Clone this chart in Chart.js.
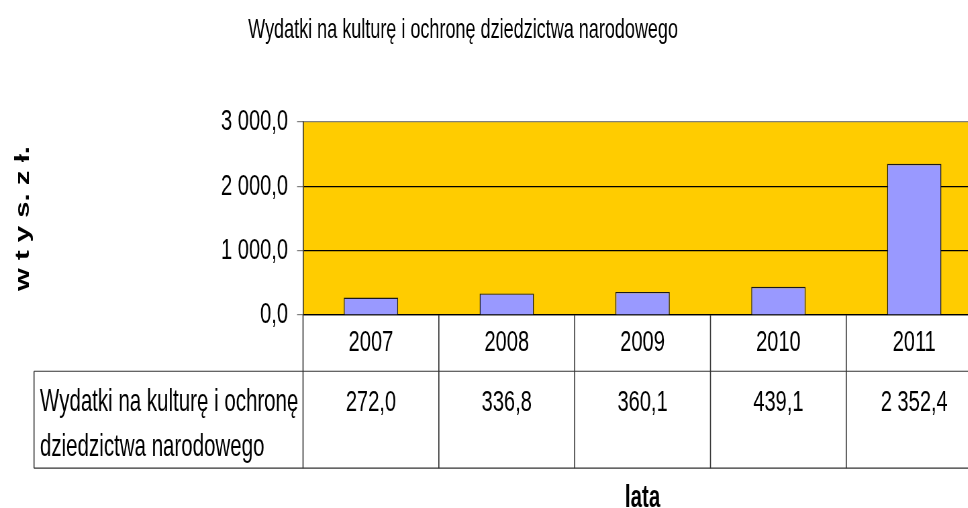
<!DOCTYPE html>
<html lang="pl">
<head>
<meta charset="utf-8">
<title>Wydatki na kulturę i ochronę dziedzictwa narodowego</title>
<script src="https://cdn.jsdelivr.net/npm/chart.js@4"></script>
<style>
  html, body { margin: 0; padding: 0; background: #fff; overflow: hidden; }
</style>
</head>
<body>
<!-- płótno rysowane szerzej i ściśnięte w poziomie: imituje wąską czcionkę oryginału -->
<canvas id="wykres" width="1208" height="416" style="width:990px;height:508px"></canvas>
<script>
// Dane wykresu
const lata = ["2007", "2008", "2009", "2010", "2011"];
const wydatki = [272.0, 336.8, 360.1, 439.1, 2352.4];
const nazwaSerii = "Wydatki na kulturę i ochronę dziedzictwa narodowego";
const tytulWykresu = "Wydatki na kulturę i ochronę dziedzictwa narodowego";
const tytulOsiY = "w t y s. z ł.";
const tytulOsiX = "lata";

const czcionka = '"Liberation Sans", Arial, sans-serif';

// Format liczb: 2 352,4
function formatPL(v) {
  const [calk, ulamek] = v.toFixed(1).split(".");
  return calk.replace(/\B(?=(\d{3})+(?!\d))/g, " ") + "," + ulamek;
}

// Żółte tło obszaru wykresu
const tloPlugin = {
  id: "tlo",
  beforeDraw(chart) {
    const { ctx, chartArea } = chart;
    ctx.save();
    ctx.fillStyle = "#FFCC00";
    ctx.fillRect(chartArea.left, chartArea.top, chartArea.right - chartArea.left, chartArea.bottom - chartArea.top);
    ctx.restore();
  },
};

// Tabela danych pod wykresem (wiersz lat rysuje oś X, tu linie i wartości)
const tabelaPlugin = {
  id: "tabela",
  afterDraw(chart) {
    const { ctx, chartArea } = chart;
    const x = chart.scales.x;
    const pol = (x.getPixelForValue(1) - x.getPixelForValue(0)) / 2;
    const gora = chartArea.bottom;
    const srodek = gora + 46;
    const dol = srodek + 79.4;
    const lewa = 41.5;

    ctx.save();
    ctx.strokeStyle = "#333";
    // linie pionowe
    ctx.lineWidth = 1.3;
    ctx.beginPath();
    for (let i = 0; i <= lata.length; i++) {
      const px = x.getPixelForValue(i) - pol;
      ctx.moveTo(px, gora);
      ctx.lineTo(px, dol);
    }
    ctx.moveTo(lewa, srodek);
    ctx.lineTo(lewa, dol);
    ctx.stroke();
    // linie poziome
    ctx.lineWidth = 1;
    ctx.beginPath();
    ctx.moveTo(lewa, srodek);
    ctx.lineTo(chart.width, srodek);
    ctx.moveTo(lewa, dol);
    ctx.lineTo(chart.width, dol);
    ctx.stroke();

    ctx.fillStyle = "#000";
    ctx.font = "24.5px " + czcionka;
    ctx.textBaseline = "middle";
    ctx.textAlign = "center";
    wydatki.forEach((v, i) => {
      ctx.fillText(formatPL(v), x.getPixelForValue(i), srodek + 25.4);
    });

    // nazwa serii w dwóch liniach
    ctx.font = "25px " + czcionka;
    ctx.textAlign = "left";
    const slowa = nazwaSerii.split(" ");
    const linie = [];
    let linia = "";
    slowa.forEach((s) => {
      const proba = linia ? linia + " " + s : s;
      if (ctx.measureText(proba).width > x.left - lewa - 8 && linia) {
        linie.push(linia);
        linia = s;
      } else {
        linia = proba;
      }
    });
    linie.push(linia);
    linie.forEach((l, i) => {
      ctx.fillText(l, lewa + 7.3, srodek + 25.4 + i * 36.8);
    });
    ctx.restore();
  },
};

Chart.defaults.color = "#000";
Chart.defaults.font.family = czcionka;

new Chart(document.getElementById("wykres"), {
  type: "bar",
  data: {
    labels: lata,
    datasets: [
      {
        label: nazwaSerii,
        data: wydatki,
        backgroundColor: "#9999FF",
        borderColor: "#1a1a1a",
        borderWidth: 1.2,
        categoryPercentage: 1,
        barPercentage: 0.4,
      },
    ],
  },
  options: {
    responsive: false,
    animation: false,
    devicePixelRatio: 1.2212,
    layout: { padding: { left: -68.2, right: 9.8, top: 0, bottom: 0 } },
    plugins: {
      legend: { display: false },
      tooltip: { enabled: false },
      title: {
        display: true,
        text: tytulWykresu,
        color: "#000",
        font: { size: 22, weight: "normal", family: czcionka },
        padding: { top: 11.5, bottom: 62 },
      },
    },
    scales: {
      x: {
        grid: { display: false, drawTicks: false },
        border: { display: true, color: "#000" },
        ticks: { font: { size: 24.5 }, padding: 8 },
        title: {
          display: true,
          text: tytulOsiX,
          font: { size: 25, weight: "bold" },
          padding: { top: 0, bottom: -7 },
        },
        afterFit(scale) {
          scale.height = 158;
        },
      },
      y: {
        min: 0,
        max: 3000,
        ticks: {
          stepSize: 1000,
          font: { size: 24.5 },
          padding: 11,
          callback: (v) => formatPL(v),
        },
        grid: {
          color: (c) => (c.tick && c.tick.value === 3000 ? "#808080" : "#000"),
          tickColor: "#808080",
          tickLength: 7.3,
        },
        border: { color: "#333", width: 1.3 },
        title: {
          display: true,
          text: tytulOsiY,
          font: { size: 24, weight: "bold" },
          padding: { top: 82.5, bottom: 0 },
        },
        afterFit(scale) {
          scale.width = 437.9;
        },
      },
    },
  },
  plugins: [tloPlugin, tabelaPlugin],
});
</script>
</body>
</html>
